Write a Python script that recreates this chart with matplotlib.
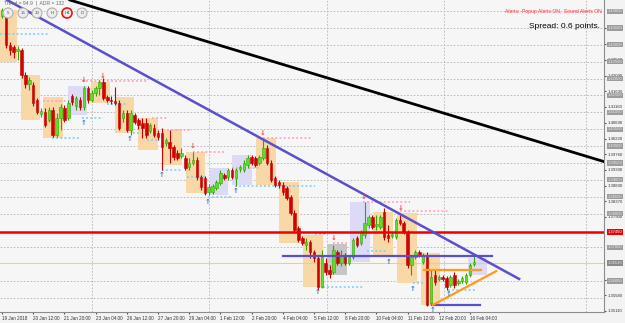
import matplotlib
matplotlib.use("Agg")
import matplotlib.pyplot as plt
from matplotlib.patches import Ellipse

plt.rcParams["font.family"] = ["Liberation Sans", "DejaVu Sans"]

# H4 candles (bar 0 = 19 Jan 2018)
opens = [1.4386, 1.4386, 1.4300, 1.4294, 1.4282, 1.4285, 1.4211, 1.4184, 1.4181, 1.4136,
         1.4095, 1.4101, 1.4077, 1.4107, 1.4033, 1.4083, 1.4113, 1.4083, 1.4148, 1.4119,
         1.4136, 1.4116, 1.4172, 1.4136, 1.4157, 1.4172, 1.4190, 1.4145, 1.4136, 1.4133,
         1.4128, 1.4083, 1.4098, 1.4047, 1.4092, 1.4077, 1.4068, 1.4068, 1.4044, 1.4053,
         1.4038, 1.4038, 1.4009, 1.4012, 1.3997, 1.3979, 1.3970, 1.3964, 1.3938, 1.3950,
         1.3958, 1.3908, 1.3905, 1.3864, 1.3864, 1.3875, 1.3890, 1.3914, 1.3908, 1.3929,
         1.3905, 1.3932, 1.3929, 1.3944, 1.3967, 1.3964, 1.3950, 1.3964, 1.3994, 1.3950,
         1.3905, 1.3893, 1.3884, 1.3875, 1.3849, 1.3801, 1.3757, 1.3727, 1.3706, 1.3715,
         1.3686, 1.3668, 1.3582, 1.3653, 1.3632, 1.3626, 1.3686, 1.3653, 1.3677, 1.3653,
         1.3671, 1.3727, 1.3712, 1.3736, 1.3766, 1.3789, 1.3763, 1.3760, 1.3804, 1.3736,
         1.3733, 1.3730, 1.3780, 1.3772, 1.3745, 1.3647, 1.3671, 1.3686, 1.3656, 1.3677,
         1.3534, 1.3617, 1.3606, 1.3611, 1.3608, 1.3588, 1.3617, 1.3594, 1.3600, 1.3597,
         1.3617, 1.3650]
highs = [1.4409, 1.4391, 1.4308, 1.4300, 1.4297, 1.4291, 1.4219, 1.4205, 1.4190, 1.4142,
         1.4113, 1.4113, 1.4116, 1.4116, 1.4098, 1.4125, 1.4122, 1.4136, 1.4154, 1.4148,
         1.4145, 1.4178, 1.4178, 1.4166, 1.4178, 1.4196, 1.4202, 1.4151, 1.4148, 1.4175,
         1.4136, 1.4107, 1.4107, 1.4107, 1.4098, 1.4083, 1.4083, 1.4083, 1.4068, 1.4065,
         1.4047, 1.4053, 1.4024, 1.4047, 1.4003, 1.3988, 1.3994, 1.3973, 1.3964, 1.3982,
         1.3967, 1.3914, 1.3911, 1.3887, 1.3887, 1.3899, 1.3929, 1.3920, 1.3935, 1.3935,
         1.3935, 1.3944, 1.3958, 1.3973, 1.3973, 1.3970, 1.3973, 1.4018, 1.4003, 1.3958,
         1.3911, 1.3899, 1.3893, 1.3881, 1.3855, 1.3810, 1.3763, 1.3733, 1.3727, 1.3721,
         1.3691, 1.3677, 1.3691, 1.3668, 1.3647, 1.3706, 1.3691, 1.3691, 1.3683, 1.3677,
         1.3727, 1.3733, 1.3751, 1.3834, 1.3795, 1.3795, 1.3795, 1.3795, 1.3816, 1.3766,
         1.3745, 1.3786, 1.3795, 1.3778, 1.3751, 1.3677, 1.3691, 1.3691, 1.3683, 1.3686,
         1.3632, 1.3632, 1.3617, 1.3617, 1.3614, 1.3617, 1.3626, 1.3606, 1.3614, 1.3623,
         1.3653, 1.3677]
lows = [1.4380, 1.4291, 1.4270, 1.4261, 1.4255, 1.4202, 1.4172, 1.4166, 1.4119, 1.4095,
        1.4086, 1.4056, 1.4071, 1.4027, 1.4027, 1.4047, 1.4071, 1.4077, 1.4122, 1.4107,
        1.4107, 1.4107, 1.4128, 1.4130, 1.4148, 1.4151, 1.4136, 1.4130, 1.4125, 1.4122,
        1.4047, 1.4071, 1.4041, 1.4033, 1.4065, 1.4050, 1.4024, 1.4024, 1.4038, 1.4027,
        1.4018, 1.3929, 1.4000, 1.3950, 1.3958, 1.3958, 1.3964, 1.3929, 1.3929, 1.3944,
        1.3899, 1.3869, 1.3855, 1.3855, 1.3858, 1.3869, 1.3884, 1.3899, 1.3899, 1.3902,
        1.3881, 1.3923, 1.3923, 1.3935, 1.3944, 1.3938, 1.3944, 1.3958, 1.3944, 1.3893,
        1.3878, 1.3875, 1.3855, 1.3840, 1.3795, 1.3745, 1.3715, 1.3706, 1.3691, 1.3668,
        1.3656, 1.3573, 1.3579, 1.3617, 1.3608, 1.3620, 1.3647, 1.3644, 1.3647, 1.3647,
        1.3665, 1.3700, 1.3706, 1.3727, 1.3757, 1.3754, 1.3751, 1.3754, 1.3721, 1.3715,
        1.3727, 1.3724, 1.3766, 1.3739, 1.3638, 1.3617, 1.3665, 1.3671, 1.3650, 1.3526,
        1.3529, 1.3588, 1.3600, 1.3600, 1.3573, 1.3582, 1.3579, 1.3588, 1.3594, 1.3591,
        1.3611, 1.3644]
closes = [1.4403, 1.4300, 1.4285, 1.4279, 1.4288, 1.4211, 1.4184, 1.4196, 1.4128, 1.4101,
          1.4104, 1.4062, 1.4107, 1.4033, 1.4083, 1.4116, 1.4077, 1.4128, 1.4130, 1.4142,
          1.4116, 1.4172, 1.4136, 1.4157, 1.4172, 1.4190, 1.4142, 1.4136, 1.4133, 1.4128,
          1.4053, 1.4098, 1.4047, 1.4098, 1.4071, 1.4062, 1.4053, 1.4033, 1.4062, 1.4033,
          1.4027, 1.3997, 1.4018, 1.3994, 1.3967, 1.3964, 1.3979, 1.3935, 1.3950, 1.3958,
          1.3908, 1.3878, 1.3861, 1.3878, 1.3881, 1.3893, 1.3920, 1.3905, 1.3929, 1.3908,
          1.3929, 1.3938, 1.3950, 1.3964, 1.3950, 1.3944, 1.3967, 1.3994, 1.3950, 1.3899,
          1.3884, 1.3884, 1.3864, 1.3846, 1.3801, 1.3751, 1.3721, 1.3712, 1.3715, 1.3686,
          1.3668, 1.3582, 1.3671, 1.3626, 1.3620, 1.3691, 1.3653, 1.3677, 1.3653, 1.3671,
          1.3721, 1.3706, 1.3742, 1.3772, 1.3789, 1.3760, 1.3769, 1.3789, 1.3730, 1.3727,
          1.3739, 1.3780, 1.3772, 1.3745, 1.3647, 1.3671, 1.3686, 1.3677, 1.3677, 1.3529,
          1.3611, 1.3597, 1.3611, 1.3606, 1.3582, 1.3611, 1.3588, 1.3600, 1.3608, 1.3617,
          1.3647, 1.3656]

# daily range boxes: start bar, end bar, top, bottom, kind
box_start = [-0.5, 4.9, 10.5, 16.9, 22.8, 29.0, 34.9, 41.0, 47.2, 53.3,
             59.0, 65.1, 71.0, 77.2, 83.3, 89.2, 95.1, 101.3, 107.4, 119.5]
box_end = [3.9, 9.7, 15.6, 21.8, 27.7, 33.8, 40.0, 46.2, 52.1, 58.0,
           64.1, 70.3, 76.2, 82.3, 88.5, 94.4, 100.3, 106.4, 112.3, 124.4]
box_top = [1.4403, 1.4211, 1.4145, 1.4178, 1.4190, 1.4145, 1.4083, 1.4047, 1.3982, 1.3935,
           1.3973, 1.4024, 1.3893, 1.3736, 1.3709, 1.3834, 1.3804, 1.3801, 1.3683, 1.3668]
box_bot = [1.4249, 1.4077, 1.4024, 1.4092, 1.4128, 1.4038, 1.3988, 1.3944, 1.3861, 1.3855,
           1.3884, 1.3884, 1.3712, 1.3582, 1.3617, 1.3656, 1.3677, 1.3594, 1.3529, 1.3617]
box_kind = ["o", "o", "o", "l", "o", "o", "o", "o", "o", "l",
            "l", "o", "o", "o", "g", "l", "o", "o", "o", "l"]

# dotted resistance (pink) / support (cyan) levels
pink_start = [20.5, 10.5, 38.5, 42.3, 49.0, 59.0, 66.9, 80.3, 84.9, 92.6, 102.0]
pink_end = [37.2, 16.9, 42.3, 48.2, 57.2, 66.2, 79.5, 82.8, 88.5, 104.6, 114.9]
pink_level = [1.4193, 1.4133, 1.4083, 1.4047, 1.3982, 1.3935, 1.4024, 1.3739, 1.3712, 1.3834, 1.3807]
cyan_start = [-0.5, 12.8, 20.5, 26.9, 33.6, 37.2, 41.0, 47.4, 52.8, 59.7, 82.3, 93.6, 105.4, 114.4]
cyan_end = [12.3, 20.0, 25.9, 32.3, 36.2, 39.7, 46.2, 52.6, 59.2, 80.3, 92.6, 98.7, 108.5, 121.8]
cyan_level = [1.4332, 1.4024, 1.4083, 1.4125, 1.4038, 1.4018, 1.3929, 1.3908, 1.3849, 1.3881,
              1.3582, 1.3688, 1.3594, 1.3573]

# signal arrows
sell_bar = [20.8, 25.9, 49.0, 66.9, 85.1, 92.8, 102.3]
sell_price = [1.4196, 1.4208, 1.4000, 1.4038, 1.3727, 1.3849, 1.3816]
buy_bar = [20.8, 32.8, 41.0, 52.8, 60.0, 81.0, 99.2, 105.4, 114.4, 110.5]
buy_price = [1.4068, 1.4021, 1.3914, 1.3834, 1.3867, 1.3567, 1.3656, 1.3576, 1.3561, 1.3513]

# price scale
price_ticks = [1.43490, 1.43020, 1.42560, 1.42090, 1.41630, 1.41160, 1.40690,
               1.40220, 1.39760, 1.39300, 1.38830, 1.38370, 1.37900,
               1.36040, 1.35580, 1.35110]
round_levels = [1.440, 1.435, 1.430, 1.425, 1.420, 1.415, 1.410, 1.405, 1.400, 1.395,
                1.390, 1.385, 1.380, 1.370, 1.360, 1.355]
boxed_levels = [1.440, 1.435, 1.430, 1.425, 1.420, 1.415, 1.410, 1.405, 1.400, 1.395,
                1.390, 1.385, 1.380, 1.370, 1.360]
date_pos = [0, 8, 16, 24, 32, 40, 48, 56, 64, 72, 80, 88, 96, 104, 112, 120]
date_labels = ["19 Jan 2018", "20 Jan 12:00", "21 Jan 20:00", "23 Jan 04:00", "26 Jan 12:00",
               "27 Jan 20:00", "29 Jan 04:00", "1 Feb 12:00", "2 Feb 20:00", "4 Feb 04:00",
               "5 Feb 12:00", "8 Feb 20:00", "10 Feb 04:00", "11 Feb 12:00", "12 Feb 20:00",
               "16 Feb 04:00"]
vgrid = [23.1, 53.1, 83.3, 113.3, 149.7]

red_level = 1.3745
yellow_level = 1.3653

W, H = 625, 323
fig = plt.figure(figsize=(W / 100, H / 100), dpi=100)
fig.patch.set_facecolor("#f3f3f3")
ax = fig.add_axes([0, 11 / H, 604 / W, 312 / H])
ax.set_facecolor("#f6f6f6")
ax.set_xlim(-0.513, 154.36)
ax.set_ylim(1.3508, 1.4433)

# grid
for lv in round_levels:
    ax.axhline(lv, color="#b4b4b4", lw=0.6, ls=(0, (2, 2)), zorder=0)
for v in vgrid:
    ax.axvline(v, color="#b4b4b4", lw=0.6, ls=(0, (2, 2)), zorder=0)

box_colors = {"o": "#f7d8a6", "l": "#dcdaf6", "g": "#c6c6c6"}
for s, e, t, b, k in zip(box_start, box_end, box_top, box_bot, box_kind):
    ax.fill_between([s, e], b, t, color=box_colors[k], lw=0, zorder=1)

for s, e, lv in zip(pink_start, pink_end, pink_level):
    ax.plot([s, e], [lv, lv], color="#ffa6b8", lw=1.3, ls=(0, (1, 1.3)), zorder=2)
for s, e, lv in zip(cyan_start, cyan_end, cyan_level):
    ax.plot([s, e], [lv, lv], color="#86d0f2", lw=1.3, ls=(0, (1, 1.3)), zorder=2)

ax.axhline(yellow_level, color="#f2d35c", lw=0.8, zorder=2)

# candles
for i, (o, h, l, c) in enumerate(zip(opens, highs, lows, closes)):
    up = c >= o
    col = "#2fa800" if up else "#c80000"
    fill = "#5edc2c" if up else "#d40000"
    ax.vlines(i, l, h, color=col, lw=0.8, zorder=3)
    ax.bar(i, max(abs(c - o), 0.00008), bottom=min(o, c), width=0.62,
           color=fill, edgecolor=col, lw=0.4, zorder=4)

# trend lines and levels
ax.axhline(red_level, color="#ee0000", lw=1.8, zorder=5)
ax.plot([1.28, 132.6], [1.4433, 1.3606], color="#5a4fcf", lw=1.8, zorder=5)
ax.plot([17.4, 154.6], [1.4433, 1.3953], color="black", lw=2.0, zorder=5)
ax.plot([72, 125.6], [1.3674, 1.3674], color="#5a4fcf", lw=1.6, zorder=5)
ax.plot([110.3, 122.6], [1.3529, 1.3529], color="#5a4fcf", lw=1.6, zorder=5)
ax.plot([108.2, 122.8], [1.3632, 1.3632], color="#ff9a1a", lw=1.6, zorder=5)
ax.plot([110.5, 126.7], [1.3529, 1.3629], color="#ff9a1a", lw=1.6, zorder=5)

for b, p in zip(sell_bar, sell_price):
    ax.text(b, p, "↓", color="#ff4646", fontsize=5, fontweight="bold",
            ha="center", va="center", zorder=6, family="DejaVu Sans")
for b, p in zip(buy_bar, buy_price):
    ax.text(b, p, "↑", color="#3a7bd5", fontsize=5, fontweight="bold",
            ha="center", va="center", zorder=6, family="DejaVu Sans")

# axes styling
for sp in ["left", "top"]:
    ax.spines[sp].set_visible(False)
for sp in ["right", "bottom"]:
    ax.spines[sp].set_color("#8c8c8c")
    ax.spines[sp].set_linewidth(0.8)
ax.yaxis.tick_right()
ax.set_yticks(price_ticks)
ax.set_yticklabels([f"{t:.5f}" for t in price_ticks])
ax.set_xticks(date_pos)
ax.set_xticklabels(date_labels, ha="left")
ax.tick_params(axis="y", labelsize=3.1, length=1.5, pad=1.2, colors="#555555", labelcolor="#333333")
ax.tick_params(axis="x", labelsize=3.3, length=1.5, pad=1.2, colors="#555555", labelcolor="#333333")

ytf = ax.get_yaxis_transform()
for lv in boxed_levels:
    ax.text(1.006, lv, f"{lv:.5f}", transform=ytf, fontsize=3.0, color="#e6e6e6",
            ha="left", va="center", clip_on=False, zorder=7,
            bbox=dict(boxstyle="square,pad=0.15", fc="#9c9c9c", ec="none"))
ax.text(1.006, yellow_level, f"{yellow_level:.5f}", transform=ytf, fontsize=3.0, color="#e6e6e6",
        ha="left", va="center", clip_on=False, zorder=7,
        bbox=dict(boxstyle="square,pad=0.15", fc="#8a8a8a", ec="none"))
ax.text(1.006, red_level, "1.37450", transform=ytf, fontsize=3.0, color="white",
        ha="left", va="center", clip_on=False, zorder=8,
        bbox=dict(boxstyle="square,pad=0.15", fc="#ee0000", ec="none"))

# panel texts
fig.text(4 / W, 1 - 4 / H, "Trend = 94.9  |  ADR = 132", fontsize=3.6, color="#6e6e6e",
         ha="left", va="center")
btn_x = [8, 23, 37, 52, 67, 82]
btn_txt = ["5", "15", "30", "H", "H4", "D"]
for bx, bt in zip(btn_x, btn_txt):
    ring = "#ee1111" if bt == "H4" else "#b0b0b0"
    fig.add_artist(Ellipse((bx / W, 1 - 13 / H), 10 / W, 10 / H, transform=fig.transFigure,
                           fc="#ececec", ec=ring, lw=1.2 if bt == "H4" else 0.8, zorder=9))
    fig.text(bx / W, 1 - 13 / H, bt, fontsize=3.2, color="#555555", ha="center", va="center",
             zorder=10)

fig.text(602 / W, 1 - 11 / H, "Alerts:  Popup Alerts ON,  Sound Alerts ON", fontsize=3.6,
         color="#ff3030", ha="right", va="center")
fig.text(600 / W, 1 - 26 / H, "Spread: 0.6 points.", fontsize=6.0, color="black",
         ha="right", va="center")

fig.savefig("out.png", dpi=100, facecolor=fig.get_facecolor())
